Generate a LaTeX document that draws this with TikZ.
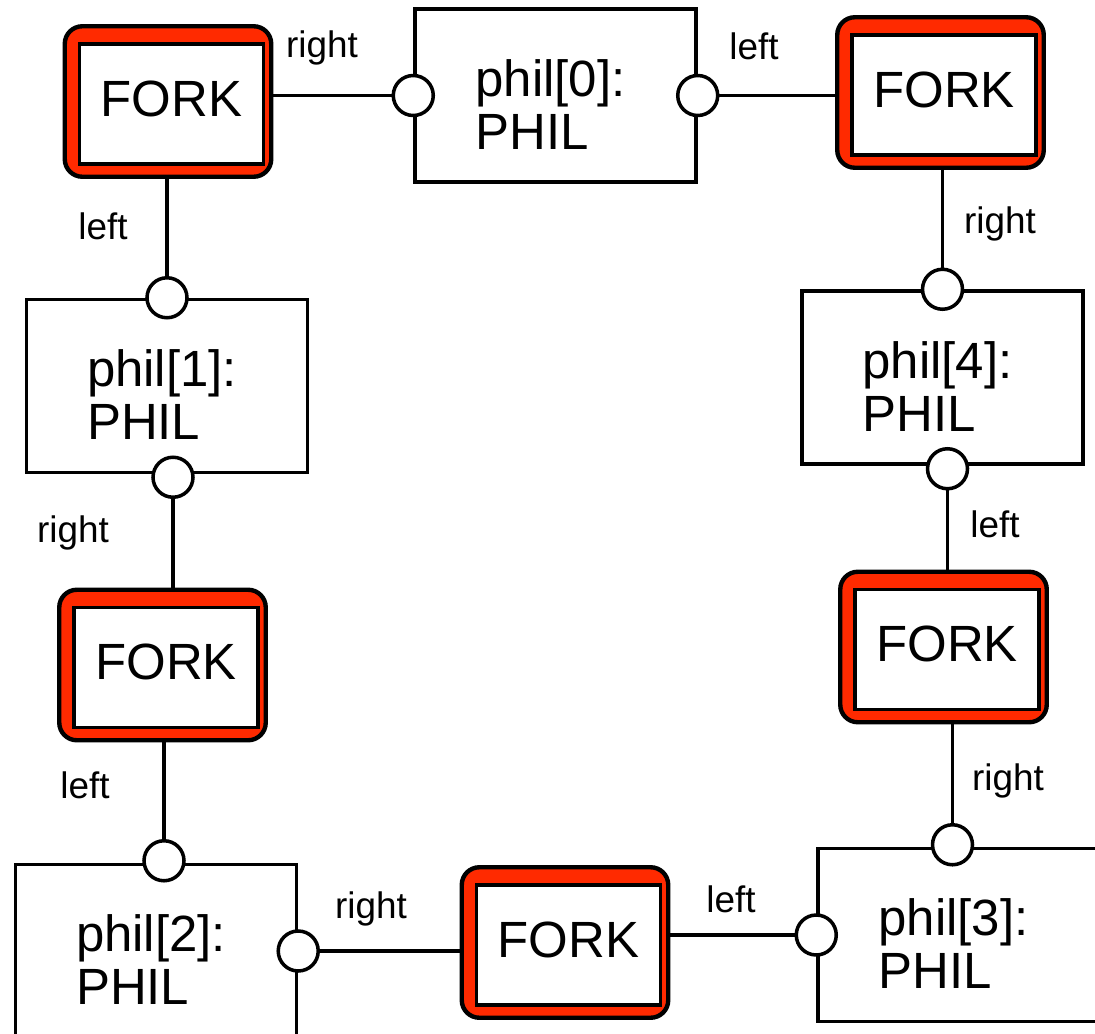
\documentclass[tikz,border=0pt]{standalone}
\usepackage{fontspec}
\setmainfont{Liberation Sans}
\usetikzlibrary{calc,backgrounds}
\definecolor{forkred}{RGB}{255,42,0}
\tikzstyle{phil_box}=[rectangle, draw, line width=2pt, minimum width=5.62cm, minimum height=3.46cm, inner xsep=1.2cm, text width=3.2cm, text height=31pt, align=left, font=\fontsize{29}{30}\selectfont]
\tikzstyle{fork_box}=[rectangle, draw, fill=white, line width=2pt, minimum width=3.68cm, minimum height=2.4cm, text height=20pt, text depth=6pt, font=\fontsize{29}{30}\selectfont]
\tikzstyle{fork_rim}=[draw, fill=forkred, line width=2.5pt, rounded corners=10pt]
\tikzstyle{port}=[circle, draw, fill=white, line width=2pt, minimum size=0.8cm, inner sep=0pt]
\tikzstyle{link}=[line width=2pt]
\tikzstyle{link_label}=[anchor=base, inner sep=0pt, font=\fontsize{21}{25}\selectfont]
\begin{document}
\begin{tikzpicture}[x=0.02cm, y=-0.02cm]
  \path[use as bounding box, clip] (0,0) rectangle (1095,1034);

  %Philosophers
  \draw (555.5,95.5) node[phil_box] (phil0) {phil[0]:\\PHIL};
  \draw (167,386) node[phil_box] (phil1) {phil[1]:\\PHIL};
  \draw (156,951) node[phil_box] (phil2) {phil[2]:\\PHIL};
  \draw (958.5,935) node[phil_box] (phil3) {phil[3]:\\PHIL};
  \draw (942.5,377.5) node[phil_box] (phil4) {phil[4]:\\PHIL};

  %Forks
  \draw (171.5,104) node[fork_box] (fork0) {FORK};
  \draw (166,667.5) node[fork_box] (fork1) {FORK};
  \draw (568.5,945) node[fork_box] (fork2) {FORK};
  \draw (947,649.5) node[fork_box] (fork3) {FORK};
  \draw (944,95) node[fork_box] (fork4) {FORK};

  %Ports
  \node[port] (p0l) at (phil0.west) {};
  \node[port] (p0r) at (phil0.east) {};
  \node[port] (p1t) at (phil1.north) {};
  \node[port] (p1b) at ($(phil1.south)+(6,3)$) {};
  \node[port] (p2t) at ($(phil2.north)+(8,-2)$) {};
  \node[port] (p2r) at (phil2.east) {};
  \node[port] (p3t) at ($(phil3.north)+(-6,-2)$) {};
  \node[port] (p3l) at (phil3.west) {};
  \node[port] (p4t) at (phil4.north) {};
  \node[port] (p4b) at ($(phil4.south)+(5,3)$) {};

  \begin{scope}[on background layer]
    %Links
    \draw[link] (p0l) -- (fork0.east |- p0l);
    \draw[link] (p0r) -- (fork4.west |- p0r);
    \draw[link] (p4t) -- (p4t |- fork4.south);
    \draw[link] (p4b) -- (p4b |- fork3.north);
    \draw[link] (p3t) -- (p3t |- fork3.south);
    \draw[link] (p3l) -- (fork2.east |- p3l);
    \draw[link] (p2r) -- (fork2.west |- p2r);
    \draw[link] (p2t) -- (p2t |- fork1.south);
    \draw[link] (p1b) -- (p1b |- fork1.north);
    \draw[link] (p1t) -- (p1t |- fork0.south);
    %Fork rims
    \foreach \f in {0,...,4}
      \draw[fork_rim] ($(fork\f.north west)+(-13,-16)$) rectangle ($(fork\f.south east)+(6,11)$);
  \end{scope}

  %Labels
  \node[link_label] (r0) at (322,58) {right};
  \node[link_label] (l0) at (754,60) {left};
  \node[link_label] (r4) at (1000,233) {right};
  \node[link_label] (l4) at (995,537) {left};
  \node[link_label] (r3) at (1008,790) {right};
  \node[link_label] (l3) at (731,912) {left};
  \node[link_label] (r2) at (371,918) {right};
  \node[link_label] (l2) at (85,798) {left};
  \node[link_label] (r1) at (73,542) {right};
  \node[link_label] (l1) at (103,239) {left};
\end{tikzpicture}
\end{document}
